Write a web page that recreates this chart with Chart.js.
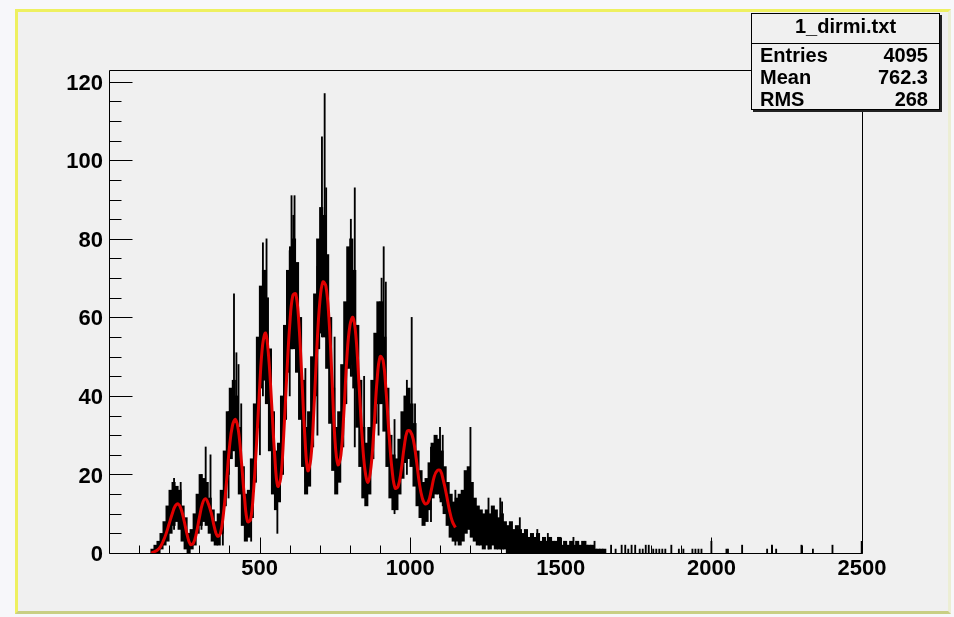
<!DOCTYPE html>
<html>
<head>
<meta charset="utf-8">
<title>1_dirmi.txt</title>
<script src="https://cdn.jsdelivr.net/npm/chart.js@4.4.1/dist/chart.umd.min.js"></script>
<style>
  html, body { margin: 0; padding: 0; background: #f7f7fa; }
  #wrap { position: relative; width: 954px; height: 617px; overflow: hidden; }
  #pad {
    position: absolute; left: 15px; top: 9px; width: 936px; height: 605px;
    box-sizing: border-box; background: #f0f0f0;
    border-top: 3px solid #eef060; border-left: 3px solid #eef060;
    border-bottom: 3px solid #c8cf84; border-right: 3px solid #eceed4;
  }
  #chart { position: absolute; left: 0; top: 0; }
  #stats {
    position: absolute; left: 751px; top: 13px; width: 189px; height: 97px;
    box-sizing: border-box; border: 1px solid #000; box-shadow: 2px 2px 0 #222;
    background: #f0f0f0; color: #000;
    font: bold 20px 'Liberation Sans', Arial, Helvetica, sans-serif;
  }
  #stats .title { height: 29px; line-height: 24px; text-align: center; border-bottom: 1px solid #000; }
  #stats .row { display: flex; justify-content: space-between; height: 22px; line-height: 22px; padding: 0 11px 0 8px; }
</style>
</head>
<body>
<div id="wrap">
  <div id="pad"></div>
  <canvas id="chart" width="954" height="617"></canvas>
  <div id="stats"></div>
</div>
<script>
// histogram envelope, 10-unit columns: lowest / highest bin content in each column
const bandX = [
  150, 160, 170, 180, 190, 200, 210, 220, 230, 240,
  250, 260, 270, 280, 290, 300, 310, 320, 330, 340,
  350, 360, 370, 380, 390, 400, 410, 420, 430, 440,
  450, 460, 470, 480, 490, 500, 510, 520, 530, 540,
  550, 560, 570, 580, 590, 600, 610, 620, 630, 640,
  650, 660, 670, 680, 690, 700, 710, 720, 730, 740,
  750, 760, 770, 780, 790, 800, 810, 820, 830, 840,
  850, 860, 870, 880, 890, 900, 910, 920, 930, 940,
  950, 960, 970, 980, 990, 1000, 1010, 1020, 1030, 1040,
  1050, 1060, 1070, 1080, 1090, 1100, 1110, 1120, 1130, 1140,
  1150, 1160, 1170, 1180, 1190, 1200, 1210, 1220, 1230, 1240,
  1250, 1260, 1270, 1280, 1290, 1300, 1310, 1320, 1330, 1340,
  1350, 1360, 1370, 1380, 1390, 1400, 1410, 1420, 1430, 1440,
  1450, 1460, 1470, 1480, 1490, 1500, 1510, 1520, 1530, 1540,
  1550, 1560, 1570, 1580, 1590, 1600, 1610, 1620, 1630, 1640, 1650
];
const bandLow = [
  0, 0, 0, 1, 2, 3, 5, 7, 8, 6,
  3, 1, 0, 1, 2, 5, 7, 8, 7, 5,
  3, 2, 2, 5, 12, 20, 24, 26, 22, 15,
  7, 3, 4, 9, 18, 32, 42, 44, 38, 26,
  15, 11, 13, 20, 34, 46, 52, 52, 46, 34,
  22, 15, 17, 27, 40, 52, 56, 55, 47, 33,
  21, 15, 18, 27, 38, 47, 48, 42, 32, 22,
  14, 12, 15, 24, 33, 38, 38, 31, 22, 14,
  11, 11, 15, 19, 23, 24, 22, 17, 12, 9,
  7, 8, 11, 14, 15, 15, 13, 10, 7, 4,
  3, 3, 2, 3, 5, 6, 4, 3, 2, 2,
  1, 2, 1, 2, 1, 1, 1, 1, 0, 0,
  0, 0, 0, 0, 0, 0, 0, 0, 0, 0,
  0, 0, 0, 0, 0, 0, 0, 0, 0, 0,
  0, 0, 0, 0, 0, 0, 0, 0, 0, 0, 0
];
const bandHigh = [
  1, 2, 3, 5, 8, 12, 16, 18, 17, 16,
  12, 9, 5, 6, 10, 15, 20, 19, 18, 14,
  11, 8, 10, 16, 26, 36, 42, 44, 40, 32,
  22, 15, 16, 24, 38, 55, 68, 72, 65, 52,
  36, 26, 28, 40, 58, 72, 78, 80, 74, 60,
  44, 32, 36, 50, 66, 80, 88, 86, 76, 60,
  42, 32, 36, 48, 64, 78, 80, 72, 58, 44,
  32, 28, 32, 44, 56, 64, 64, 55, 42, 30,
  25, 24, 29, 36, 40, 42, 38, 33, 26, 21,
  18, 19, 23, 28, 30, 29, 26, 22, 18, 15,
  13, 14, 15, 16, 21, 22, 18, 14, 12, 11,
  10, 11, 10, 12, 11, 9, 10, 8, 7, 8,
  6, 7, 6, 5, 6, 4, 5, 4, 5, 3,
  4, 3, 4, 3, 3, 4, 2, 3, 2, 3,
  2, 3, 2, 3, 2, 2, 2, 1, 1, 1, 1
];

// single bins that stick out of the envelope, and the sparse tail
const spikeX = [
  214, 236, 305, 319, 335, 376, 395, 413, 421, 428, 437, 470, 499, 509, 515, 521,
  557, 598, 604, 610, 614, 650, 690, 705, 714, 719, 747, 801, 805, 814, 845, 893,
  903, 910, 917, 946, 987, 1003, 1014, 1067, 1097, 1106, 1148, 1198, 1258, 1297, 1303,
  1362, 1420, 1455, 1490, 1540, 1580, 1610, 1665, 1680, 1700, 1712, 1722, 1733, 1745,
  1760, 1770, 1780, 1790, 1805, 1815, 1825, 1835, 1845, 1865, 1890, 1905, 1935, 1945,
  1955, 1965, 1998, 2048, 2053, 2100, 2183, 2199, 2213, 2297, 2335, 2400, 2497
];
const spikeLow = [
  6, 8, 6, 8, 6, 2, 14, 30, 28, 25, 18, 3, 25, 40, 45, 45,
  5, 40, 52, 55, 55, 18, 30, 55, 60, 55, 22, 45, 45, 27, 18, 30,
  40, 40, 40, 10, 20, 25, 18, 8, 14, 12, 2, 6, 1, 2, 2,
  0, 0, 0, 0, 0, 0, 0, 0, 0, 0, 0, 0, 0, 0,
  0, 0, 0, 0, 0, 0, 0, 0, 0, 0, 0, 0, 0, 0,
  0, 0, 0, 0, 0, 0, 0, 0, 0, 0, 0, 0, 0
];
const spikeHigh = [
  19, 18, 20, 27, 25, 14, 36, 66, 51, 48, 38, 20, 61, 79, 72, 80,
  22, 77, 91, 86, 91, 47, 73, 106, 117, 93, 55, 85, 78, 93, 45, 58,
  70, 78, 69, 34, 44, 60, 38, 27, 32, 30, 16, 32, 14, 14, 13,
  9, 6, 5, 4, 4, 3, 3, 2, 1, 2, 2, 1, 2, 2,
  1, 1, 2, 2, 1, 1, 1, 1, 1, 2, 1, 1, 1, 1,
  1, 1, 3, 1, 1, 2, 1, 2, 1, 2, 1, 2, 3
];

// fitted curve (red)
const fitX = [
  140, 150, 160, 170, 180, 190, 200, 210, 220, 230, 240, 250, 260, 270, 280, 290,
  300, 310, 320, 330, 340, 350, 360, 370, 380, 390, 400, 410, 420, 430, 440, 450,
  460, 470, 480, 490, 500, 510, 520, 530, 540, 550, 560, 570, 580, 590, 600, 610,
  620, 630, 640, 650, 660, 670, 680, 690, 700, 710, 720, 730, 740, 750, 760, 770,
  780, 790, 800, 810, 820, 830, 840, 850, 860, 870, 880, 890, 900, 910, 920, 930,
  940, 950, 960, 970, 980, 990, 1000, 1010, 1020, 1030, 1040, 1050, 1060, 1070, 1080, 1090,
  1100, 1110, 1120, 1130, 1140, 1150
];
const fitY = [
  0, 0.3, 0.7, 1.5, 3, 5, 7.5, 10, 12, 12.5, 11, 8, 4.5, 2.2, 2.5, 5,
  9, 12.5, 13.8, 12.5, 10, 6.5, 4.3, 5, 10, 18, 27, 32.5, 34, 31, 23, 14,
  8, 8.5, 16, 28, 42, 53, 56, 50, 38, 25, 17, 19, 30, 45, 58, 65.5,
  66, 59, 45, 30, 21, 24, 36, 52, 64, 69, 68, 60, 45, 29, 22.5, 25,
  36, 50, 58, 60, 55, 43, 30, 21, 18, 22, 32, 44, 50, 49, 41, 30,
  21, 16.5, 17, 21, 27, 31, 31, 29, 24, 18, 14, 12.5, 13, 16, 19.5, 21,
  21, 18.5, 15, 11, 8, 6.5
];

const xTickLabels = [500, 1000, 1500, 2000, 2500];
const yTickLabels = [0, 20, 40, 60, 80, 100, 120];

const statsTitle = '1_dirmi.txt';
const statsRows = [['Entries', '4095'], ['Mean', '762.3'], ['RMS', '268']];

// stats box
const stats = document.getElementById('stats');
const t = document.createElement('div');
t.className = 'title';
t.textContent = statsTitle;
stats.appendChild(t);
statsRows.forEach(r => {
    const row = document.createElement('div');
    row.className = 'row';
    row.innerHTML = '<span>' + r[0] + '</span><span>' + r[1] + '</span>';
    stats.appendChild(row);
});

const FONT = "'Liberation Sans', Arial, Helvetica, sans-serif";

// ROOT style frame with inward ticks
const frameTicks = {
    id: 'frameTicks',
    afterDatasetsDraw(chart) {
        const { ctx, chartArea: a, scales: { x, y } } = chart;
        const l = Math.round(a.left) + 0.5, r = Math.round(a.right) + 0.5;
        const tp = Math.round(a.top) + 0.5, b = Math.round(a.bottom) + 0.5;
        ctx.save();
        ctx.strokeStyle = '#000';
        ctx.lineWidth = 1;
        ctx.beginPath();
        ctx.moveTo(l, tp); ctx.lineTo(r, tp); ctx.lineTo(r, b); ctx.lineTo(l, b); ctx.closePath();
        for (let v = 0; v <= 120; v += 5) {
            const py = Math.round(y.getPixelForValue(v)) + 0.5;
            const len = v % 20 === 0 ? 23 : 12;
            ctx.moveTo(l, py); ctx.lineTo(l + len, py);
        }
        for (let v = 100; v <= 2500; v += 100) {
            const px = Math.round(x.getPixelForValue(v)) + 0.5;
            const len = v % 500 === 0 ? 16 : 8;
            ctx.moveTo(px, b); ctx.lineTo(px, b - len);
        }
        ctx.stroke();
        ctx.restore();
    }
};

new Chart(document.getElementById('chart'), {
    type: 'bar',
    data: {
        datasets: [
            {
                type: 'line',
                data: fitX.map((v, i) => ({ x: v, y: fitY[i] })),
                borderColor: '#e00000',
                borderWidth: 3,
                pointRadius: 0,
                tension: 0.4,
                order: 0
            },
            {
                type: 'bar',
                data: bandX.map((v, i) => ({ x: v, y: [bandLow[i], bandHigh[i]] })),
                backgroundColor: '#000',
                barThickness: 3.4,
                order: 2
            },
            {
                type: 'bar',
                xAxisID: 'x2',
                data: spikeX.map((v, i) => ({ x: v, y: [spikeLow[i], spikeHigh[i]] })),
                backgroundColor: '#000',
                barThickness: 1.2,
                order: 1
            }
        ]
    },
    options: {
        responsive: false,
        animation: false,
        layout: { padding: { left: 0, top: 70, right: 92, bottom: 0 } },
        plugins: { legend: { display: false }, tooltip: { enabled: false } },
        scales: {
            x: {
                type: 'linear', min: 0, max: 2500, offset: false,
                afterFit(s) { s.height = 64; },
                afterBuildTicks(s) { s.ticks = xTickLabels.map(v => ({ value: v })); },
                grid: { display: false, drawTicks: false },
                border: { display: false },
                ticks: {
                    autoSkip: false, maxRotation: 0, padding: 3,
                    color: '#000', font: { family: FONT, size: 22, weight: 'bold' },
                    callback: v => String(v)
                }
            },
            x2: { type: 'linear', min: 0, max: 2500, offset: false, display: false },
            y: {
                min: 0, max: 123,
                afterFit(s) { s.width = 109; },
                afterBuildTicks(s) { s.ticks = yTickLabels.map(v => ({ value: v })); },
                grid: { display: false, drawTicks: false },
                border: { display: false },
                ticks: {
                    autoSkip: false, padding: 6, labelOffset: 2,
                    color: '#000', font: { family: FONT, size: 22, weight: 'bold' },
                    callback: v => String(v)
                }
            }
        }
    },
    plugins: [frameTicks]
});
</script>
</body>
</html>
